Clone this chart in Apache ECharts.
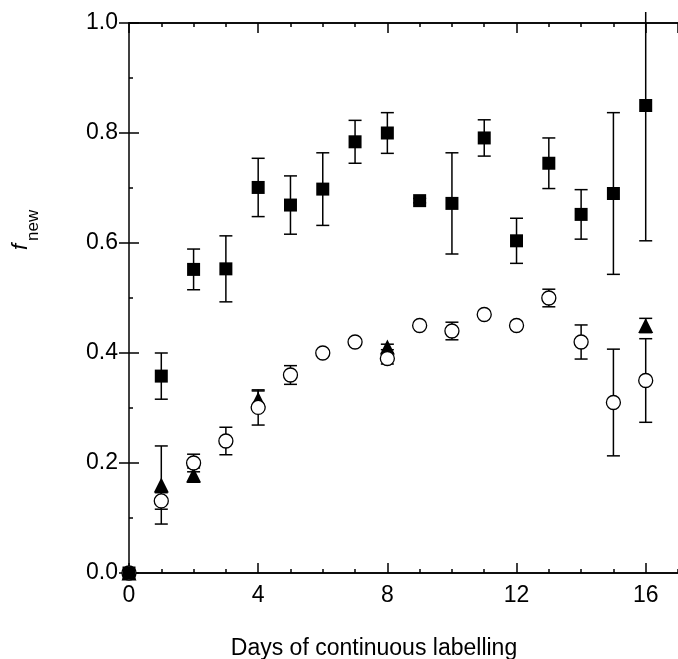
<!DOCTYPE html>
<html>
<head>
<meta charset="utf-8">
<script src="https://cdn.jsdelivr.net/npm/echarts@6/dist/echarts.min.js"></script>
<style>
html,body{margin:0;padding:0;background:#fff;}
#chart{width:678px;height:659px;}
</style>
</head>
<body>
<div id="chart"></div>
<script>
// Data
var days = [0, 1, 2, 3, 4, 5, 6, 7, 8, 9, 10, 11, 12, 13, 14, 15, 16];
var squareVal = [0, 0.358, 0.552, 0.553, 0.701, 0.669, 0.698, 0.784, 0.800, 0.677, 0.672, 0.791, 0.604, 0.745, 0.652, 0.690, 0.850];
var squareErr = [0, 0.042, 0.037, 0.060, 0.053, 0.053, 0.066, 0.039, 0.037, 0.004, 0.092, 0.033, 0.041, 0.046, 0.045, 0.147, 0.246];
var circleVal = [0, 0.131, 0.200, 0.240, 0.301, 0.360, 0.400, 0.420, 0.390, 0.450, 0.440, 0.470, 0.450, 0.500, 0.420, 0.310, 0.350];
var circleErr = [0, 0.015, 0.016, 0.025, 0.032, 0.017, 0, 0, 0.010, 0, 0.016, 0, 0.007, 0.016, 0.031, 0.097, 0.076];
var triangleDays = [0, 1, 2, 4, 8, 16];
var triangleVal = [0, 0.160, 0.178, 0.316, 0.411, 0.450];
var triangleErr = [0, 0.071, 0.013, 0.015, 0.005, 0.013];
var xTicks = [0, 4, 8, 12, 16];
var yTicks = [0.0, 0.2, 0.4, 0.6, 0.8, 1.0];
var xTitle = 'Days of continuous labelling';

var FONT = '"Liberation Sans", Arial, Helvetica, sans-serif';
var X_MIN = 0, X_MAX = 17, Y_MIN = 0, Y_MAX = 1, Y_CLIP = 1.02;

function zip(xs, ys) { return xs.map(function (x, i) { return [x, ys[i]]; }); }
function zip3(xs, ys, es) { return xs.map(function (x, i) { return [x, ys[i], es[i]]; }); }

var squareData = zip(days, squareVal);
var circleData = zip(days, circleVal);
var triangleData = zip(triangleDays, triangleVal);

function errRender(params, api) {
  var x = api.value(0), y = api.value(1), e = api.value(2);
  if (!e) return null;
  var hi = y + e, lo = y - e;
  var clipped = false;
  if (hi > Y_CLIP) { hi = Y_CLIP; clipped = true; }
  var pHi = api.coord([x, hi]);
  var pLo = api.coord([x, lo]);
  var cap = 6.5;
  var style = { stroke: '#000', lineWidth: 1.5 };
  var children = [
    { type: 'line', shape: { x1: pHi[0], y1: pHi[1], x2: pLo[0], y2: pLo[1] }, style: style },
    { type: 'line', shape: { x1: pLo[0] - cap, y1: pLo[1], x2: pLo[0] + cap, y2: pLo[1] }, style: style }
  ];
  if (!clipped) {
    children.push({ type: 'line', shape: { x1: pHi[0] - cap, y1: pHi[1], x2: pHi[0] + cap, y2: pHi[1] }, style: style });
  }
  return { type: 'group', children: children };
}

function xAxisDef(pos, interval, tickLen, showLabel) {
  return {
    type: 'value', position: pos, min: X_MIN, max: X_MAX, interval: interval,
    axisLine: { show: true, onZero: false, lineStyle: { color: '#000', width: 1.5 } },
    axisTick: { show: true, inside: true, length: tickLen, lineStyle: { color: '#000', width: 1.5 } },
    axisLabel: {
      show: showLabel, color: '#000', fontSize: 23, fontFamily: FONT, margin: 11,
      showMaxLabel: false,
      formatter: function (v) { return xTicks.indexOf(v) >= 0 ? String(v) : ''; }
    },
    splitLine: { show: false }
  };
}

var option = {
  animation: false,
  backgroundColor: '#fff',
  grid: { left: 129, top: 23, right: -1, bottom: 86, containLabel: false },
  xAxis: [
    xAxisDef('bottom', 4, 10, true),
    xAxisDef('bottom', 1, 4, false),
    xAxisDef('top', 4, 10, false),
    xAxisDef('top', 1, 4, false)
  ],
  yAxis: [
    {
      type: 'value', position: 'left', min: Y_MIN, max: Y_MAX, interval: 0.2,
      axisLine: { show: true, onZero: false, lineStyle: { color: '#000', width: 1.5 } },
      axisTick: { show: true, inside: true, length: 10, lineStyle: { color: '#000', width: 1.5 } },
      minorTick: { show: true, splitNumber: 2, length: 4, lineStyle: { color: '#000', width: 1.5 } },
      axisLabel: {
        color: '#000', fontSize: 23, fontFamily: FONT, margin: 11,
        formatter: function (v) { return v.toFixed(1); }
      },
      splitLine: { show: false }
    },
    {
      type: 'value', position: 'right', min: Y_MIN, max: Y_MAX, interval: 0.2,
      axisLine: { show: false },
      axisTick: { show: true, inside: true, length: 10, lineStyle: { color: '#000', width: 1.5 } },
      axisLabel: { show: false },
      splitLine: { show: false }
    }
  ],
  series: [
    { type: 'custom', name: 'errSquare', renderItem: errRender, data: zip3(days, squareVal, squareErr), z: 2, clip: false, silent: true },
    { type: 'custom', name: 'errTriangle', renderItem: errRender, data: zip3(triangleDays, triangleVal, triangleErr), z: 2, clip: false, silent: true },
    { type: 'custom', name: 'errCircle', renderItem: errRender, data: zip3(days, circleVal, circleErr), z: 2, clip: false, silent: true },
    { type: 'scatter', name: 'triangle', data: triangleData, symbol: 'triangle', symbolSize: 15, clip: false, z: 3,
      itemStyle: { color: '#000', opacity: 1 } },
    { type: 'scatter', name: 'circle', data: circleData, symbol: 'circle', symbolSize: 14, clip: false, z: 4,
      itemStyle: { color: '#fff', borderColor: '#000', borderWidth: 1.3, opacity: 1 } },
    { type: 'scatter', name: 'square', data: squareData, symbol: 'rect', symbolSize: 13, clip: false, z: 5,
      itemStyle: { color: '#000', opacity: 1 } }
  ],
  graphic: [
    {
      type: 'text', z: 10,
      x: 374, y: 649,
      style: { text: xTitle, x: 0, y: 0, fill: '#000', font: '23px ' + FONT, textAlign: 'center', textVerticalAlign: 'middle' }
    },
    {
      type: 'group', x: 0, y: 250, rotation: Math.PI / 2, z: 10,
      children: [
        { type: 'text', x: 0, y: 21, style: { text: 'f', fill: '#000', font: 'italic 22px ' + FONT, textAlign: 'left', textVerticalAlign: 'middle' } },
        { type: 'text', x: 9, y: 33, style: { text: 'new', fill: '#000', font: '17px ' + FONT, textAlign: 'left', textVerticalAlign: 'middle' } }
      ]
    }
  ]
};

var chart = echarts.init(document.getElementById('chart'), null, { renderer: 'canvas' });
chart.setOption(option);
</script>
</body>
</html>
